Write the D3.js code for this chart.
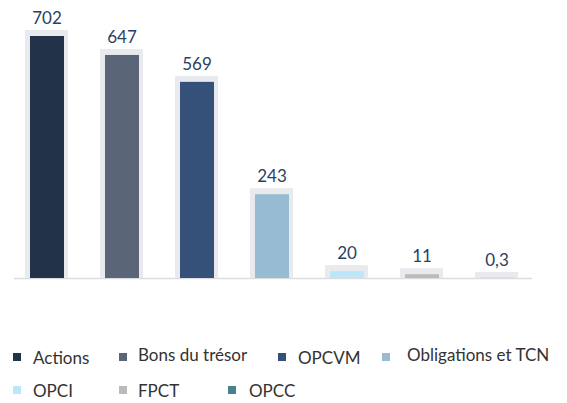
<!DOCTYPE html>
<html><head><meta charset="utf-8">
<script src="https://cdn.jsdelivr.net/npm/d3@7"></script>
<style>body{margin:0;background:#fff}svg{display:block}text{font-family:Lato,"Open Sans",sans-serif}</style>
</head><body><svg id="c" width="567" height="403"></svg>
<script>
const categories = ["Actions","Bons du trésor","OPCVM","Obligations et TCN","OPCI","FPCT","OPCC"];
const values = [702, 647, 569, 243, 20, 11, 0.3];
const valueLabels = ["702","647","569","243","20","11","0,3"];
const colors = ["#223249","#5a6678","#365179","#97bbd0","#bde6fa","#bbbbbb","#4a7f8c"];

const svg = d3.select("#c");
const base = 278;
const x = d3.scaleBand().domain(categories).range([9.5, 534.5]).paddingInner(0.547).paddingOuter(0.2735);
const y = d3.scaleLinear().domain([0, 702]).range([base, 36]);

// axis line
svg.append("line").attr("x1",14).attr("x2",532).attr("y1",base+0.5).attr("y2",base+0.5)
  .attr("stroke","#dcdde1").attr("stroke-width",1.5);

const g = svg.append("g");
const bw = x.bandwidth();
g.selectAll("rect.frame").data(categories).join("rect").attr("class","frame")
  .attr("x", d => x(d) - 5).attr("width", bw + 9)
  .attr("y", (d,i) => y(values[i]) - 6).attr("height", (d,i) => base - y(values[i]) + 6)
  .attr("fill","#e9eaee");
g.selectAll("rect.bar").data(categories).join("rect").attr("class","bar")
  .attr("x", d => x(d)).attr("width", bw)
  .attr("y", (d,i) => y(values[i])).attr("height", (d,i) => base - y(values[i]))
  .attr("fill", (d,i) => colors[i]);
g.selectAll("text.lbl").data(categories).join("text").attr("class","lbl")
  .attr("x", d => x(d) + bw/2).attr("y", (d,i) => y(values[i]) - 12)
  .attr("text-anchor","middle").attr("font-size",17).attr("fill","#2a3f60")
  .text((d,i) => valueLabels[i]);

// legend
const legendPos = [[13,353,33,364],[119,353,138,361],[278,353,298,364],[382,353,407,361],
                   [13,386,33,397],[119,386,138,397],[228,386,249,397]];
const lg = svg.append("g");
categories.forEach((c,i) => {
  const p = legendPos[i];
  lg.append("rect").attr("x",p[0]).attr("y",p[1]).attr("width",8).attr("height",8).attr("fill",colors[i]);
  lg.append("text").attr("x",p[2]).attr("y",p[3]).attr("font-size",17).attr("fill","#333").text(c);
});
</script></body></html>
